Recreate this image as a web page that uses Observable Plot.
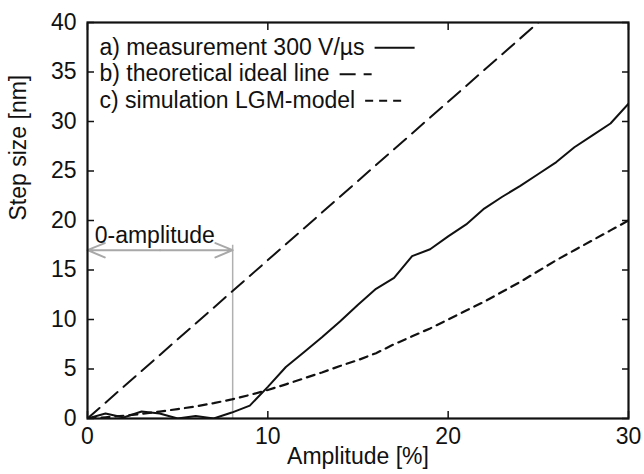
<!DOCTYPE html>
<html>
<head>
<meta charset="utf-8">
<script src="https://cdn.jsdelivr.net/npm/d3@7"></script>
<script src="https://cdn.jsdelivr.net/npm/@observablehq/plot@0.6"></script>
<style>
  html, body { margin: 0; padding: 0; background: #fff; }
  #chart { width: 644px; height: 474px; }
  svg text { font-family: "Liberation Sans", Arial, Helvetica, sans-serif; }
</style>
</head>
<body>
<div id="chart"></div>
<script>
// Amplitude values [%]
const amplitude = d3.range(0, 31);
// a) measurement 300 V/µs [nm]
const measured = [0, 0.5, 0.1, 0.7, 0.5, 0.0, 0.25, 0.0, 0.6, 1.3, 3.2, 5.2, 6.7, 8.2, 9.8, 11.5,
  13.1, 14.2, 16.4, 17.1, 18.4, 19.6, 21.2, 22.4, 23.5, 24.7, 25.9, 27.4, 28.6, 29.8, 31.8];
// b) theoretical ideal line
const idealAmplitude = [0, 25];
const idealStep = [0, 40];
// c) simulation LGM-model
const model = [0, 0.12, 0.28, 0.47, 0.7, 0.95, 1.22, 1.55, 1.93, 2.38, 2.88, 3.45, 4.05, 4.65, 5.3, 5.9,
  6.6, 7.5, 8.3, 9.1, 10.0, 10.9, 11.8, 12.8, 13.8, 14.9, 16.0, 17.0, 18.0, 19.0, 20.0];
// 0-amplitude annotation
const zeroAmplitude = 8.05;
const zeroArrowY = 17;
const zeroLineTop = 17.5;

const xTicks = [0, 10, 20, 30];
const yTicks = [0, 5, 10, 15, 20, 25, 30, 35, 40];
const legendLabels = ["a) measurement 300 V/µs", "b) theoretical ideal line", "c) simulation LGM-model"];
const legendDash = [null, "16,8", "8,6"];

const measSeries = amplitude.map((a, i) => ({a, v: measured[i]}));
const modelSeries = amplitude.map((a, i) => ({a, v: model[i]}));
const idealSeries = idealAmplitude.map((a, i) => ({a, v: idealStep[i]}));

const FS = 23;
const plot = Plot.plot({
  width: 644,
  height: 474,
  marginLeft: 87,
  marginRight: 16,
  marginTop: 22,
  marginBottom: 56,
  style: {fontFamily: '"Liberation Sans", Arial, Helvetica, sans-serif', fontSize: FS + "px", color: "#111", background: "#fff"},
  x: {domain: [0, 30]},
  y: {domain: [0, 40]},
  marks: [
    // tick labels
    Plot.axisX(xTicks, {anchor: "bottom", tickSize: 0, tickPadding: 9, label: null, fontSize: FS}),
    Plot.axisY(yTicks, {anchor: "left", tickSize: 0, tickPadding: 11, label: null, fontSize: FS}),
    // inward ticks on all sides
    Plot.axisX(xTicks, {anchor: "bottom", tickSize: -7, tickFormat: () => "", label: null, strokeWidth: 1.5}),
    Plot.axisX(xTicks, {anchor: "top", tickSize: -7, tickFormat: () => "", label: null, strokeWidth: 1.5}),
    Plot.axisY(yTicks, {anchor: "left", tickSize: -7, tickFormat: () => "", label: null, strokeWidth: 1.5}),
    Plot.axisY(yTicks, {anchor: "right", tickSize: -7, tickFormat: () => "", label: null, strokeWidth: 1.5}),
    // annotation
    Plot.ruleX([zeroAmplitude], {y1: 0, y2: zeroLineTop, stroke: "#b0b0b0", strokeWidth: 1.5}),
    Plot.arrow([{x1: zeroAmplitude / 2, x2: 0}, {x1: zeroAmplitude / 2, x2: zeroAmplitude}], {
      x1: "x1", x2: "x2", y1: zeroArrowY, y2: zeroArrowY, bend: 0,
      stroke: "#a8a8a8", strokeWidth: 2, headLength: 14, headAngle: 45
    }),
    Plot.text(["0-amplitude"], {x: 0.4, y: zeroArrowY + 0.75, textAnchor: "start", lineAnchor: "bottom", fontSize: FS, fill: "#111"}),
    // data lines
    Plot.line(idealSeries, {x: "a", y: "v", stroke: "#111", strokeWidth: 2, strokeDasharray: legendDash[1], clip: true}),
    Plot.line(modelSeries, {x: "a", y: "v", stroke: "#111", strokeWidth: 2.2, strokeDasharray: legendDash[2], clip: true}),
    Plot.line(measSeries, {x: "a", y: "v", stroke: "#111", strokeWidth: 2, clip: true}),
    // legend texts
    ...legendLabels.map((lab, k) => Plot.text([lab], {
      frameAnchor: "top-left", dx: 12, dy: 25 + k * 26.5,
      textAnchor: "start", lineAnchor: "middle", fontSize: FS, fill: "#111", className: "legend-" + k
    })),
    // axis labels
    Plot.text(["Step size [nm]"], {frameAnchor: "left", dx: -69, rotate: -90, fontSize: FS, fill: "#111"}),
    Plot.text(["Amplitude [%]"], {frameAnchor: "bottom", dy: 45, fontSize: FS, fill: "#111"}),
    Plot.frame({stroke: "#111", strokeWidth: 2.2})
  ]
});
document.getElementById("chart").appendChild(plot);

// Append legend line samples after each legend text
const svg = d3.select(plot);
const svgBox = plot.getBoundingClientRect();
legendLabels.forEach((lab, k) => {
  const node = plot.querySelector(".legend-" + k + " text");
  if (!node) return;
  const r = node.getBoundingClientRect();
  const x0 = r.right - svgBox.left + 10;
  const ym = r.top - svgBox.top + r.height / 2 + 1;
  const len = [40, 32, 42][k];
  svg.append("line")
    .attr("x1", x0).attr("x2", x0 + len)
    .attr("y1", ym).attr("y2", ym)
    .attr("stroke", "#111").attr("stroke-width", 2)
    .attr("stroke-dasharray", legendDash[k]);
});
</script>
</body>
</html>
